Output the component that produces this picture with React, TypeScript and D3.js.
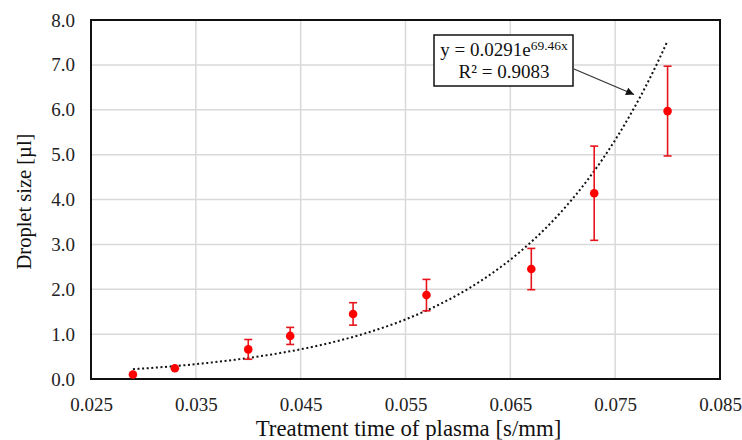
import React, { useEffect, useRef } from 'react';
import * as d3 from 'd3';

// measured points: treatment time [s/mm], droplet size [µl], error
const times = [0.029, 0.033, 0.040, 0.044, 0.050, 0.057, 0.067, 0.073, 0.080];
const sizes = [0.10, 0.24, 0.66, 0.96, 1.45, 1.87, 2.45, 4.14, 5.97];
const errors = [0, 0, 0.22, 0.19, 0.25, 0.35, 0.46, 1.05, 1.0];

// trendline from the equation shown on the chart
const fitA = 0.0291;
const fitB = 69.46;

const xTicks = [0.025, 0.035, 0.045, 0.055, 0.065, 0.075, 0.085];
const yTicks = [0, 1, 2, 3, 4, 5, 6, 7, 8];

const W = 742;
const H = 440;
const margin = { left: 91, top: 20, right: 22, bottom: 61 };
const FONT = "'Liberation Serif', 'Times New Roman', serif";

export default function App() {
  const ref = useRef<SVGSVGElement>(null);

  useEffect(() => {
    const svg = d3.select(ref.current);
    svg.selectAll('*').remove();

    const x = d3.scaleLinear().domain([0.025, 0.085]).range([margin.left, W - margin.right]);
    const y = d3.scaleLinear().domain([0, 8]).range([H - margin.bottom, margin.top]);

    // grid
    svg.append('g').selectAll('line.v')
      .data(xTicks)
      .enter().append('line')
      .attr('x1', d => x(d)).attr('x2', d => x(d))
      .attr('y1', y(0)).attr('y2', y(8))
      .attr('stroke', '#d9d9d9').attr('stroke-width', 1.5);
    svg.append('g').selectAll('line.h')
      .data(yTicks)
      .enter().append('line')
      .attr('x1', x(0.025)).attr('x2', x(0.085))
      .attr('y1', d => y(d)).attr('y2', d => y(d))
      .attr('stroke', '#d9d9d9').attr('stroke-width', 1.5);

    // axes via d3 (labels only)
    const xAxis = svg.append('g')
      .attr('transform', 'translate(0,' + y(0) + ')')
      .call(d3.axisBottom(x).tickValues(xTicks).tickFormat(d3.format('.3f')).tickSize(0).tickPadding(19));
    xAxis.select('.domain').remove();
    xAxis.attr('font-family', null).attr('font-size', null);
    xAxis.selectAll('text')
      .style('font-family', FONT).style('font-size', '19px').attr('fill', '#222');

    const yAxis = svg.append('g')
      .attr('transform', 'translate(' + x(0.025) + ',0)')
      .call(d3.axisLeft(y).tickValues(yTicks).tickFormat(d3.format('.1f')).tickSize(0).tickPadding(16));
    yAxis.select('.domain').remove();
    yAxis.attr('font-family', null).attr('font-size', null);
    yAxis.selectAll('text')
      .style('font-family', FONT).style('font-size', '19px').attr('fill', '#222');

    // plot border
    svg.append('rect')
      .attr('x', x(0.025)).attr('y', y(8))
      .attr('width', x(0.085) - x(0.025)).attr('height', y(0) - y(8))
      .attr('fill', 'none').attr('stroke', '#111').attr('stroke-width', 2);

    // trendline
    const fitX = d3.range(0, 101).map(i => times[0] + (times[times.length - 1] - times[0]) * i / 100);
    const line = d3.line<number>().x(d => x(d)).y(d => y(fitA * Math.exp(fitB * d)));
    svg.append('path')
      .datum(fitX)
      .attr('d', line)
      .attr('fill', 'none').attr('stroke', '#111')
      .attr('stroke-width', 2).attr('stroke-dasharray', '2,2.6');

    // error bars
    const data = times.map((t, i) => ({ t, v: sizes[i], e: errors[i] }));
    const eb = svg.append('g').attr('stroke', '#e8141b').attr('stroke-width', 1.6);
    data.filter(d => d.e > 0).forEach(d => {
      eb.append('line').attr('x1', x(d.t)).attr('x2', x(d.t))
        .attr('y1', y(d.v - d.e)).attr('y2', y(d.v + d.e));
      [d.v - d.e, d.v + d.e].forEach(v => {
        eb.append('line').attr('x1', x(d.t) - 4).attr('x2', x(d.t) + 4)
          .attr('y1', y(v)).attr('y2', y(v));
      });
    });

    svg.append('g').selectAll('circle')
      .data(data)
      .enter().append('circle')
      .attr('cx', d => x(d.t)).attr('cy', d => y(d.v))
      .attr('r', 4.3).attr('fill', '#ff0000');

    // arrow from equation box to trendline
    svg.append('defs').append('marker')
      .attr('id', 'ah').attr('viewBox', '0 0 10 10')
      .attr('refX', 10).attr('refY', 5)
      .attr('markerWidth', 10).attr('markerHeight', 8)
      .attr('markerUnits', 'userSpaceOnUse')
      .attr('orient', 'auto')
      .append('path').attr('d', 'M0,0 L10,5 L0,10 Z').attr('fill', '#111');
    svg.append('line')
      .attr('x1', 574).attr('y1', 69)
      .attr('x2', 634).attr('y2', 94.5)
      .attr('stroke', '#333').attr('stroke-width', 1.2)
      .attr('marker-end', 'url(#ah)');

    // equation box
    svg.append('rect')
      .attr('x', 434).attr('y', 35).attr('width', 139).attr('height', 51)
      .attr('fill', '#fff').attr('stroke', '#111').attr('stroke-width', 1.5);
    const eq = svg.append('text')
      .attr('x', 504).attr('y', 56).attr('text-anchor', 'middle')
      .style('font-family', FONT).style('font-size', '19px').attr('fill', '#111');
    eq.append('tspan').text('y = ' + fitA + 'e');
    eq.append('tspan').attr('dy', -6).style('font-size', '13.5px').text(fitB + 'x');
    svg.append('text')
      .attr('x', 504).attr('y', 78).attr('text-anchor', 'middle')
      .style('font-family', FONT).style('font-size', '19px').attr('fill', '#111')
      .text('R² = 0.9083');

    // axis titles
    svg.append('text')
      .attr('x', (x(0.025) + x(0.085)) / 2 + 3).attr('y', 436)
      .attr('text-anchor', 'middle')
      .style('font-family', FONT).style('font-size', '22.8px').attr('fill', '#111')
      .text('Treatment time of plasma [s/mm]');
    svg.append('text')
      .attr('transform', 'translate(31,' + (y(4) + 2) + ') rotate(-90)')
      .attr('text-anchor', 'middle')
      .style('font-family', FONT).style('font-size', '20.5px').attr('fill', '#111')
      .text('Droplet size [µl]');
  }, []);

  return (
    <svg ref={ref} width={W} height={H}
      style={{ position: 'absolute', left: 0, top: 0, background: '#fff' }} />
  );
}
